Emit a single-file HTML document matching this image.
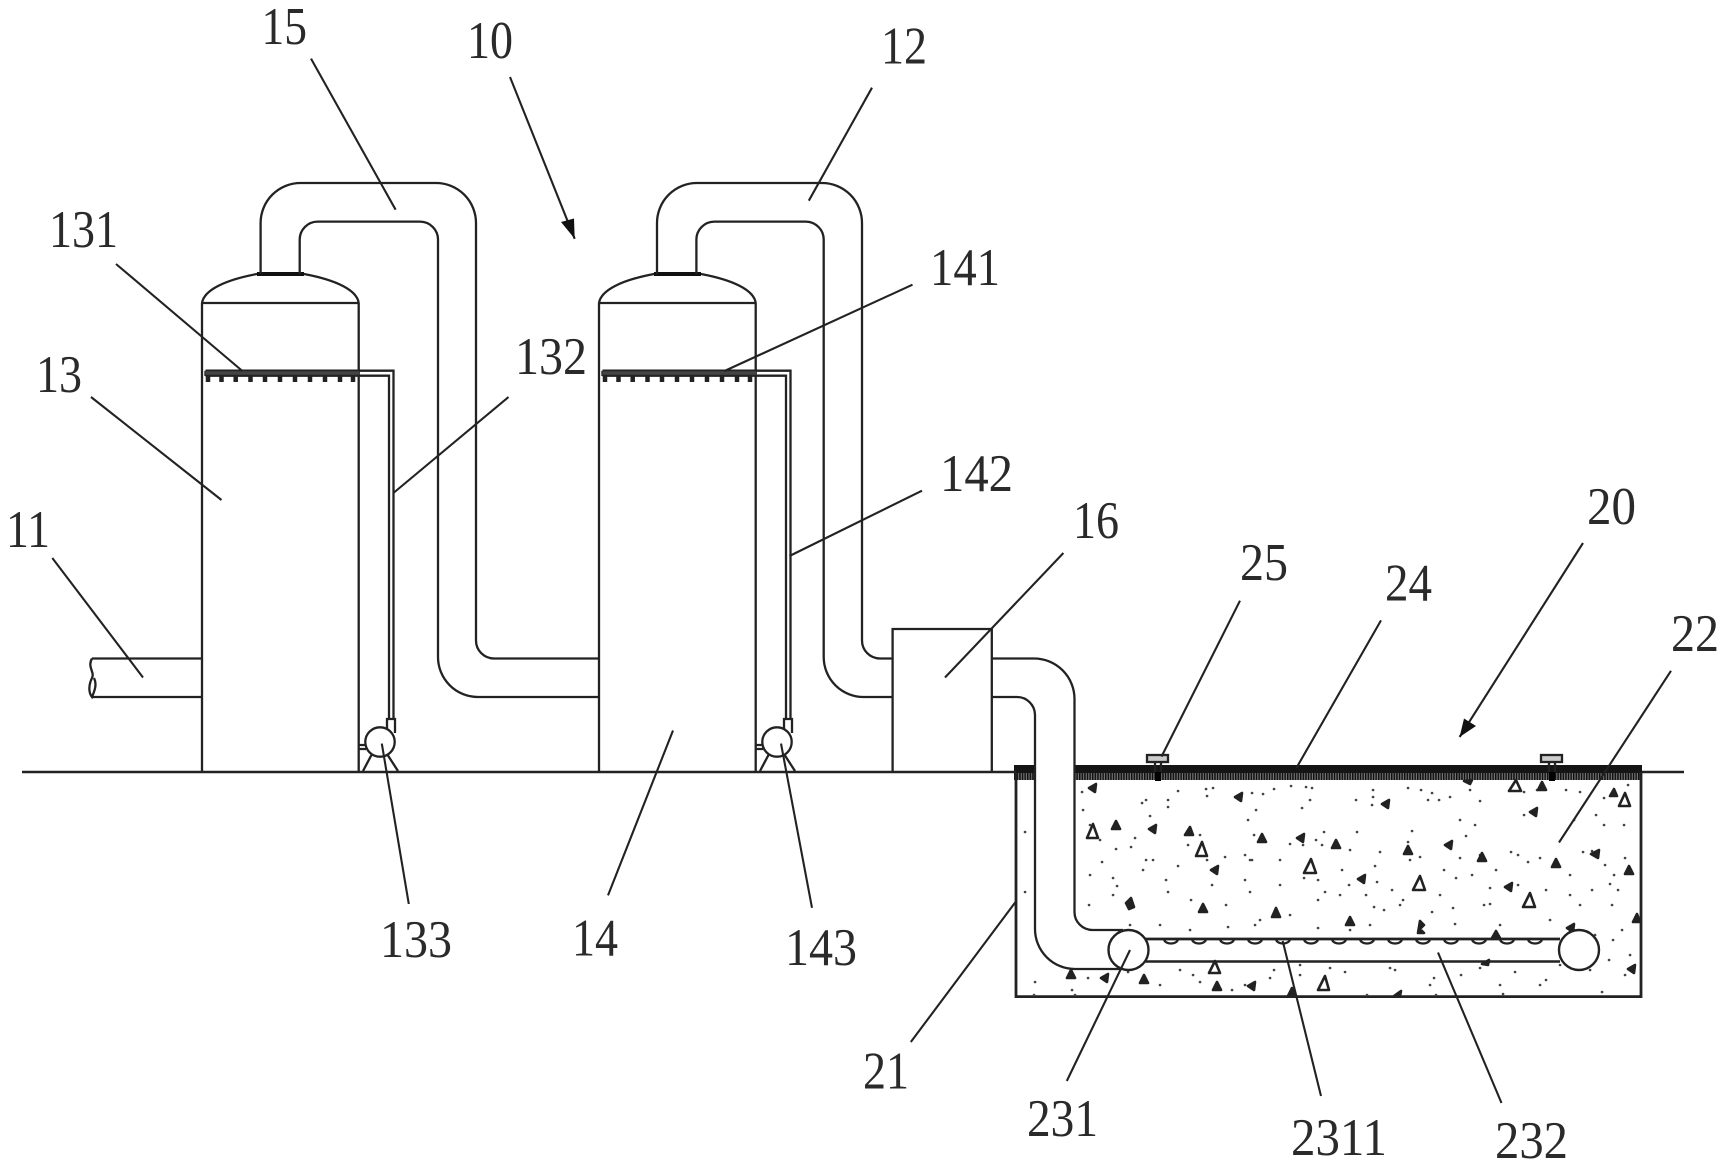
<!DOCTYPE html>
<html><head><meta charset="utf-8"><title>Diagram</title>
<style>html,body{margin:0;padding:0;background:#fff}svg{display:block}
text{font-family:"Liberation Serif",serif;font-size:53px;fill:#2a2a2a}
.l{fill:none;stroke:#222;stroke-width:2.3}.t{fill:none;stroke:#222;stroke-width:2.1}
.f{fill:#222;stroke:#222;stroke-width:2.6;stroke-linejoin:round}.o{fill:#fff;stroke:#222;stroke-width:2.6;stroke-linejoin:round}</style></head>
<body>
<svg width="1728" height="1169" viewBox="0 0 1728 1169" xmlns="http://www.w3.org/2000/svg">
<defs>
<pattern id="h" x="0" y="0" width="2.6" height="20" patternUnits="userSpaceOnUse"><rect width="2.6" height="20" fill="#777"/><rect width="1.5" height="20" fill="#111"/></pattern>
<g id="tank">
<path class="l" d="M202 772V303M358.7 772V303M202 303H358.7"/>
<path class="l" d="M202 303C204 290 225 280 257 274H304C336 280 357 290 358.7 303"/>
<path d="M257 274H304" stroke="#111" stroke-width="4"/>
<path class="l" d="M205.5 370.700H393.500V719M205.500 375.700H389V719M205.500 370.700V376"/>
<path d="M205.500 373H359" stroke="#444" stroke-width="3.500"/>
<path d="M208 376v6M221.500 376v6M235.700 376v6M250.500 376v6M265 376v6M280 376v6M295 376v6M310 376v6M325 376v6M340 376v6M353 376v6" stroke="#222" stroke-width="4.500"/>
<circle class="l" cx="380" cy="742" r="14.700"/>
<path class="l" d="M387 729V719H395V733M358.700 745H366M358.700 749H366M372 754L363 771M387 754L398 771"/>
</g>
</defs>
<rect width="1728" height="1169" fill="#fff"/>

<!-- tank 20 layers -->
<rect x="1014" y="765" width="628" height="8" fill="#151515"/>
<rect x="1014" y="773" width="628" height="7" fill="url(#h)"/>
<rect x="1035.500" y="760" width="39" height="22" fill="#fff"/>

<!-- ground -->
<path d="M22 772H1016M1642 772H1684" stroke="#222" stroke-width="2.600" fill="none"/>
<path d="M1016 772V996.600H1641V772" fill="none" stroke="#222" stroke-width="2.800"/>

<!-- towers -->
<use href="#tank"/>
<use href="#tank" x="397"/>

<!-- pipes -->
<path class="l" d="M260.600 274V223A40 40 0 0 1 300.600 183H436A40 40 0 0 1 476 223V640.500A18 18 0 0 0 494 658.500H599"/>
<path class="l" d="M299.700 274V240A18 18 0 0 1 318 221.600H420A18 18 0 0 1 438 240V657A40 40 0 0 0 478 697H599"/>
<path class="l" d="M657 274V223A40 40 0 0 1 697 183H822A40 40 0 0 1 862 223V640.500A18 18 0 0 0 880 658.500H892.600"/>
<path class="l" d="M696.400 274V240A18 18 0 0 1 714.400 221.600H806A18 18 0 0 1 823.700 240V657A40 40 0 0 0 864 697H892.600"/>
<path class="l" d="M92 658.500H202M92 697H202M92 658.500C87 667 95 672 92 678C89 684 88 692 92 697C95 690 97 684 94 678"/>
<path class="l" d="M892.600 772V629H991.800V772"/>
<path class="l" d="M991.800 658.500H1034A40.500 40.500 0 0 1 1074.500 699V912A18 18 0 0 0 1092.500 930H1123"/>
<path class="l" d="M991.800 697H1017A18 18 0 0 1 1035 715V929A40 40 0 0 0 1075 969H1122"/>

<!-- valves -->
<g id="v"><rect x="1147" y="755" width="21" height="7" fill="#ccc" stroke="#222" stroke-width="2.300"/><path class="l" d="M1155 762V772M1161 762V772"/><rect x="1155" y="772" width="6" height="9" fill="#000"/></g>
<use href="#v" x="394"/>

<!-- concrete dots -->
<path fill="none" stroke="#444" stroke-width="2.600" stroke-linecap="round" d="M1025 832h.1M1025 892h.1M1082 792h.1M1178 791h.1M1206 789h.1M1213 788h.1M1207 796h.1M1142 803h.1M1146 800h.1M1168 800h.1M1168 807h.1M1150 816h.1M1083 810h.1M1090 825h.1M1200 835h.1M1188 845h.1M1135 838h.1M1131 847h.1M1100 840h.1M1116 849h.1M1102 862h.1M1146 860h.1M1225 857h.1M1245 855h.1M1252 860h.1M1254 835h.1M1248 820h.1M1256 810h.1M1252 793h.1M1263 794h.1M1274 789h.1M1291 786h.1M1306 787h.1M1302 808h.1M1310 800h.1M1312 788h.1M1290 844h.1M1303 845h.1M1316 840h.1M1324 832h.1M1322 845h.1M1356 800h.1M1372 805h.1M1373 797h.1M1373 790h.1M1408 788h.1M1421 790h.1M1432 793h.1M1428 800h.1M1439 800h.1M1450 797h.1M1480 801h.1M1470 790h.1M1524 792h.1M1537 790h.1M1566 790h.1M1580 792h.1M1604 798h.1M1628 785h.1M1596 815h.1M1604 825h.1M1624 825h.1M1574 820h.1M1524 815h.1M1460 820h.1M1475 825h.1M1466 836h.1M1412 831h.1M1408 842h.1M1357 832h.1M1350 850h.1M1380 852h.1M1420 857h.1M1460 858h.1M1480 855h.1M1511 852h.1M1518 855h.1M1540 858h.1M1583 852h.1M1592 851h.1M1605 865h.1M1614 875h.1M1625 858h.1M1570 875h.1M1528 862h.1M1496 870h.1M1472 875h.1M1444 870h.1M1410 860h.1M1375 866h.1M1342 870h.1M1304 878h.1M1280 860h.1M1250 860h.1M1207 860h.1M1178 866h.1M1153 860h.1M1143 870h.1M1090 875h.1M1113 878h.1M1117 886h.1M1113 895h.1M1166 880h.1M1168 892h.1M1212 885h.1M1245 880h.1M1250 892h.1M1280 885h.1M1318 880h.1M1325 892h.1M1349 885h.1M1366 895h.1M1377 882h.1M1392 890h.1M1384 910h.1M1403 900h.1M1440 895h.1M1456 878h.1M1490 888h.1M1518 885h.1M1546 890h.1M1570 895h.1M1592 890h.1M1610 884h.1M1618 890h.1M1612 905h.1M1580 905h.1M1490 904h.1M1484 905h.1M1453 908h.1M1432 912h.1M1400 905h.1M1374 907h.1M1340 895h.1M1318 900h.1M1290 915h.1M1260 920h.1M1226 905h.1M1191 900h.1M1089 905h.1M1130 925h.1M1160 925h.1M1190 930h.1M1228 927h.1M1255 925h.1M1318 928h.1M1350 930h.1M1370 925h.1M1455 924h.1M1500 925h.1M1550 920h.1M1595 935h.1M1622 930h.1M1613 940h.1M1630 955h.1M1625 975h.1M1609 960h.1M1590 970h.1M1560 965h.1M1546 980h.1M1500 985h.1M1461 975h.1M1434 978h.1M1390 968h.1M1345 972h.1M1300 965h.1M1274 970h.1M1232 990h.1M1200 982h.1M1180 970h.1M1160 985h.1M1035 982h.1M1034 995h.1M1072 990h.1M1088 978h.1M1128 972h.1M1193 975h.1M1245 985h.1M1270 978h.1M1300 975h.1M1330 968h.1M1395 970h.1M1430 985h.1M1480 968h.1M1515 972h.1M1540 985h.1M1602 992h.1M1503 994h.1M1436 995h.1M1367 995h.1M1075 995h.1"/>

<!-- triangles filled -->
<g class="f">
<path d="M1089 788l7-4-1 8zM1235 797l7-4-1 8zM1382 804l7-4-1 8zM1538 790l4-8 4 8zM1610 796l4-7 3 7zM1530 812l7-4-1 8zM1112 829l4-8 4 8zM1149 829l7-4-1 8zM1185 835l5-8 3 8zM1258 842l4-8 4 8zM1297 838l7-4-1 8zM1332 848l4-8 4 8zM1404 854l4-8 4 8zM1445 845l7-4-1 8zM1478 861l4-8 4 8zM1591 854l8-4-1 8zM1552 867l4-8 4 8zM1625 874l4-8 4 8zM1211 870l7-4-1 8zM1358 879l7-4-1 8zM1505 887l7-4-1 8zM1126 903l5-5 3 9-5 2zM1199 912l4-8 4 8zM1272 917l4-9 4 9zM1346 925l4-8 4 8zM1420 921l4 4-4 4 4 4-6 0zM1633 922l4-8 3 8zM1492 938l4-7 4 7zM1567 928l7-4-1 8zM1482 964l7-4-1 5zM1067 978l4-8 4 8zM1101 978l7-4-1 8zM1140 983l4-8 4 8zM1213 990l4-8 4 8zM1248 986l7-4-1 8zM1288 996l4-8 4 8zM1394 996l7-5-1 5zM1628 969l7-4-1 8zM1464 781l8-1-2 4z"/>
</g>
<!-- triangles open -->
<g class="o">
<path d="M1087 838l6-14 5 14zM1196 856l6-14 5 14zM1304 873l7-14 5 14zM1413 890l7-14 5 14zM1509 791l7-11 5 11zM1619 806l6-13 5 13zM1523 907l7-14 5 14zM1209 973l6-12 5 12zM1318 990l7-14 4 14z"/>
</g>

<!-- aerator pipe -->
<path d="M1140 939H1560" stroke="#222" stroke-width="2.800"/>
<path d="M1140 961.500H1560" stroke="#222" stroke-width="2.500"/>
<path fill="none" stroke="#222" stroke-width="2.200" d="M1164 939a7 4.500 0 0 0 14 0M1192 939a7 4.500 0 0 0 14 0M1220 939a7 4.500 0 0 0 14 0M1248 939a7 4.500 0 0 0 14 0M1276 939a7 4.500 0 0 0 14 0M1304 939a7 4.500 0 0 0 14 0M1332 939a7 4.500 0 0 0 14 0M1360 939a7 4.500 0 0 0 14 0M1388 939a7 4.500 0 0 0 14 0M1416 939a7 4.500 0 0 0 14 0M1444 939a7 4.500 0 0 0 14 0M1472 939a7 4.500 0 0 0 14 0M1500 939a7 4.500 0 0 0 14 0M1528 939a7 4.500 0 0 0 14 0"/>
<circle cx="1128.500" cy="950" r="20" fill="#fff" stroke="#222" stroke-width="2.400"/>
<circle cx="1579" cy="950" r="20" fill="#fff" stroke="#222" stroke-width="2.400"/>

<!-- leaders -->
<g class="t">
<path d="M311 58.600L395.600 209.700M510 77L574.700 238.800M116 264L242.400 371M91 397L221.500 500M508.500 397L394 492.500M872 87.700L808.800 200.700M912.500 284.700L724.500 371M922 490.700L789.500 556M52.300 558L143 677.500M381.800 743.600L408.800 904M673 730.500L608 895.400M781 743.600L812 907.800M1063.400 553L945 677.500M1240 600.700L1161.500 756.600M1381 620.400L1296.500 767.800M1583 543L1459.600 737M1671 670.800L1559 842.500M910.800 1042L1015.500 902M1066.800 1081L1130 950M1321 1096L1282.700 941M1501.500 1103L1438 952.500"/>
</g>
<path d="M574.700 238.800L561 222L574 218.500zM1459.600 737L1464 718.500L1476 726z" fill="#111"/>

<!-- labels -->
<text x="261.500" y="44" textLength="45.500" lengthAdjust="spacingAndGlyphs">15</text>
<text x="467" y="58" textLength="46" lengthAdjust="spacingAndGlyphs">10</text>
<text x="49" y="247" textLength="69" lengthAdjust="spacingAndGlyphs">131</text>
<text x="36" y="392" textLength="46" lengthAdjust="spacingAndGlyphs">13</text>
<text x="515" y="374" textLength="72" lengthAdjust="spacingAndGlyphs">132</text>
<text x="6" y="547" textLength="44" lengthAdjust="spacingAndGlyphs">11</text>
<text x="881" y="63.400" textLength="46" lengthAdjust="spacingAndGlyphs">12</text>
<text x="930" y="285" textLength="70" lengthAdjust="spacingAndGlyphs">141</text>
<text x="940" y="491" textLength="73" lengthAdjust="spacingAndGlyphs">142</text>
<text x="1073" y="538" textLength="46" lengthAdjust="spacingAndGlyphs">16</text>
<text x="1240" y="580" textLength="48" lengthAdjust="spacingAndGlyphs">25</text>
<text x="1385" y="600.700" textLength="47" lengthAdjust="spacingAndGlyphs">24</text>
<text x="1587" y="524" textLength="49" lengthAdjust="spacingAndGlyphs">20</text>
<text x="1671" y="651" textLength="48" lengthAdjust="spacingAndGlyphs">22</text>
<text x="380" y="957" textLength="72" lengthAdjust="spacingAndGlyphs">133</text>
<text x="572" y="955.500" textLength="46" lengthAdjust="spacingAndGlyphs">14</text>
<text x="785" y="965" textLength="72" lengthAdjust="spacingAndGlyphs">143</text>
<text x="863" y="1088.700" textLength="46" lengthAdjust="spacingAndGlyphs">21</text>
<text x="1027" y="1136" textLength="71" lengthAdjust="spacingAndGlyphs">231</text>
<text x="1291" y="1155" textLength="96" lengthAdjust="spacingAndGlyphs">2311</text>
<text x="1495" y="1158" textLength="73" lengthAdjust="spacingAndGlyphs">232</text>
</svg>
</body></html>
